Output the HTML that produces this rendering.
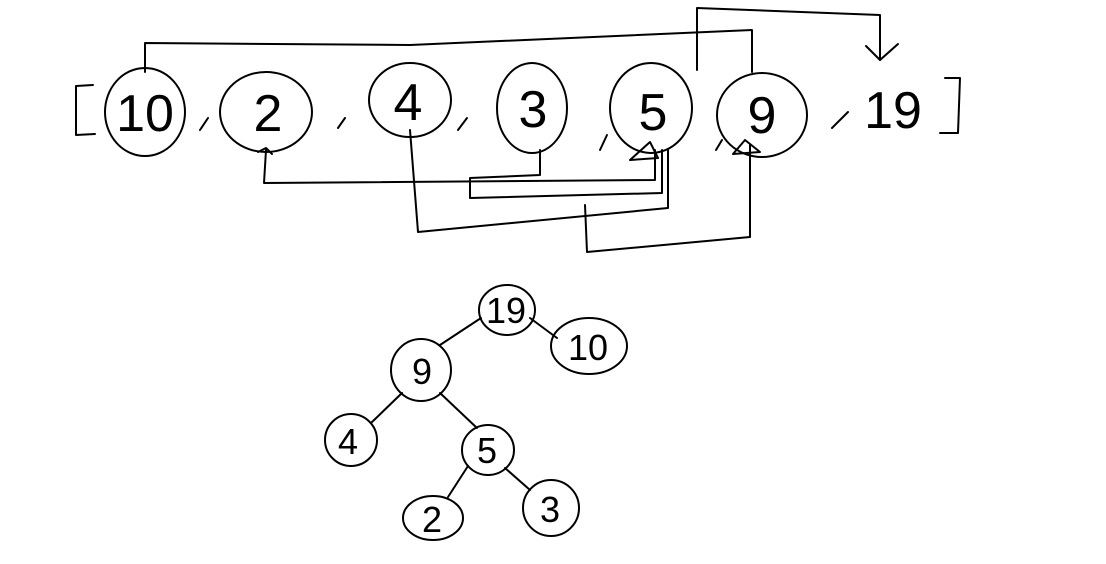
<!DOCTYPE html>
<html><head><style>
html,body{margin:0;padding:0;background:#fff;}
svg{display:block;}
text{font-family:"Liberation Sans",sans-serif;fill:#000;}
</style></head><body>
<svg width="1106" height="564" viewBox="0 0 1106 564" xmlns="http://www.w3.org/2000/svg">
<g fill="none" stroke="#000" stroke-width="2" stroke-linecap="round" stroke-linejoin="round">
<path d="M93 85 L76 86 L76 135 L95 134"/>
<path d="M945 78 L960 78 L958 133 L940 133"/>
<ellipse cx="145" cy="112" rx="40" ry="44"/>
<ellipse cx="266" cy="112" rx="46" ry="40"/>
<ellipse cx="410" cy="100" rx="41" ry="37"/>
<ellipse cx="532" cy="108" rx="35" ry="45"/>
<ellipse cx="651" cy="108" rx="41" ry="45"/>
<ellipse cx="762" cy="115" rx="45" ry="42"/>
<path d="M208 118 L200 130"/>
<path d="M345 118 L338 128"/>
<path d="M467 118 L458 130"/>
<path d="M607 135 L600 150"/>
<path d="M722 140 L716 150"/>
<path d="M848 112 L832 128"/>
<path d="M145 72 L145 43 L410 45 L752 30 L752 72"/>
<path d="M697 70 L697 8 L880 15 L880 60"/>
<path d="M866 46 L880 60 L898 44"/>
<path d="M266 150 L264 183 L655 180 L655 150"/>
<path d="M540 150 L540 175 L470 178 L470 198 L662 193 L662 150"/>
<path d="M410 130 L418 232 L668 208 L668 150"/>
<path d="M585 205 L587 252 L750 237 L750 145"/>
<path d="M630 160 L650 142 L658 158 Z"/>
<path d="M733 154 L745 140 L760 152 Z"/>
<path d="M258 152 L266 148 L272 154"/>
<ellipse cx="507" cy="310" rx="28" ry="25"/>
<ellipse cx="589" cy="346" rx="38" ry="28"/>
<ellipse cx="421" cy="370" rx="30" ry="31"/>
<ellipse cx="351" cy="440" rx="26" ry="26"/>
<ellipse cx="488" cy="450" rx="26" ry="25"/>
<ellipse cx="433" cy="518" rx="30" ry="22"/>
<ellipse cx="551" cy="508" rx="28" ry="28"/>
<path d="M481 318 L440 345"/>
<path d="M530 318 L557 338"/>
<path d="M402 393 L372 422"/>
<path d="M440 393 L477 428"/>
<path d="M468 466 L448 497"/>
<path d="M505 468 L530 490"/>
</g>
<g font-size="52" text-anchor="middle">
<text x="145" y="131">10</text>
<text x="268" y="131">2</text>
<text x="408" y="120">4</text>
<text x="533" y="127">3</text>
<text x="653" y="130">5</text>
<text x="762" y="133">9</text>
<text x="893" y="128">19</text>
</g>
<g font-size="36" text-anchor="middle">
<text x="506" y="323">19</text>
<text x="588" y="360">10</text>
<text x="422" y="384">9</text>
<text x="348" y="454">4</text>
<text x="487" y="463">5</text>
<text x="432" y="532">2</text>
<text x="550" y="522">3</text>
</g>
</svg>
</body></html>
